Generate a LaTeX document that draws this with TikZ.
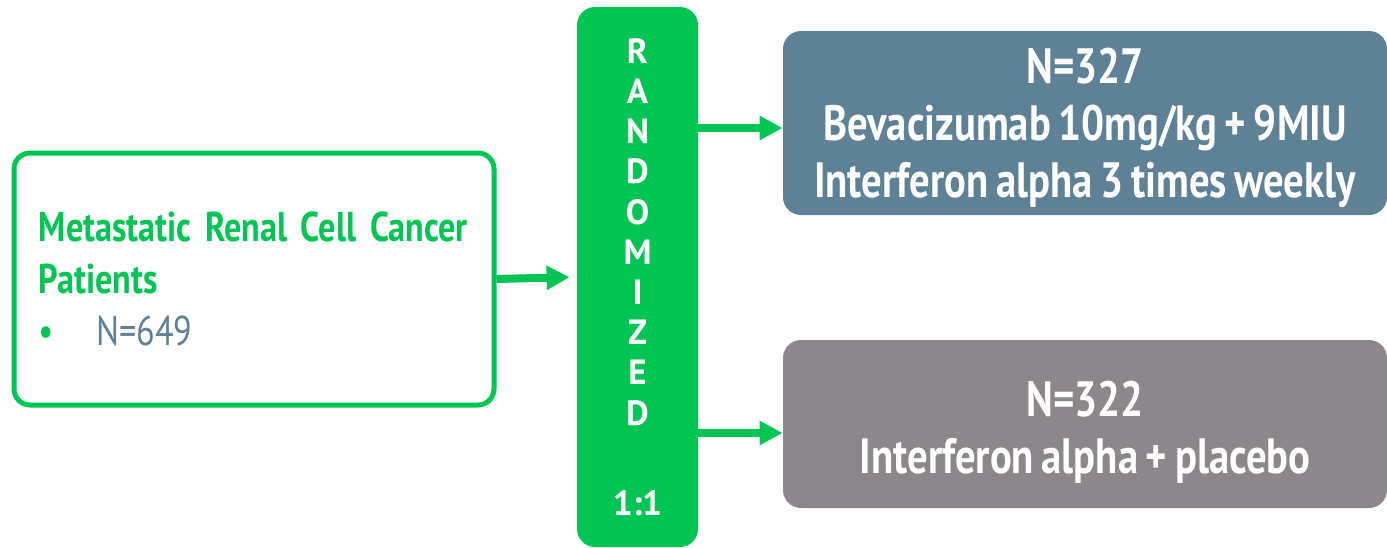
\documentclass[tikz,border=0pt]{standalone}
\usepackage{fontspec}
\setmainfont{PT Sans}[FakeStretch=0.82, WordSpace=0.75]
\newfontfamily\barfont{PT Sans}[BoldFont={PT Sans Bold}]
\usetikzlibrary{arrows.meta, positioning}
\definecolor{trialgreen}{RGB}{0,196,83}
\definecolor{slateblue}{RGB}{94,129,150}
\definecolor{warmgray}{RGB}{139,135,138}
\tikzset{
    groupbox/.style={
        draw=trialgreen,
        line width=2.5pt,
        rounded corners=8pt,
        fill=white,
        minimum width=240pt,
        minimum height=126pt,
        inner xsep=12.5pt,
        text width=215pt,
        align=left,
        font=\fontsize{20.8}{26}\selectfont
    },
    randbar/.style={
        fill=trialgreen,
        rounded corners=9pt,
        minimum width=60.5pt,
        minimum height=270pt,
        align=center,
        text=white,
        font=\barfont\bfseries\fontsize{17.5}{20.1}\selectfont
    },
    armbox/.style={
        rounded corners=9pt,
        minimum width=302pt
    },
    armtext/.style={
        align=center,
        text=white,
        font=\bfseries\fontsize{24.8}{28.5}\selectfont
    },
    line/.style={-{Triangle[length=11.5pt, width=11.5pt]}, line width=4pt, draw=trialgreen}
}
\begin{document}
\begin{tikzpicture}[x=0.5pt, y=-0.5pt]
\useasboundingbox (0,0) rectangle (1387,547);

\node[groupbox] (pts) at (254,279)
    {{\color{trialgreen}\bfseries Metastatic Renal Cell Cancer\\Patients}\\
     {\color{trialgreen}\textbullet}\hspace{21pt}{\color{slateblue}N=649}};

\node[randbar] (rand) at (637.5,277)
    {R\\A\\N\\D\\O\\M\\I\\Z\\E\\D\\[25pt]1:1};

\node[armbox, fill=slateblue, minimum height=92pt] (armA) at (1085,123) {};
\node[armtext] (armAtext) at ([yshift=-2.5pt]armA.center)
    {N=327\\Bevacizumab 10mg/kg + 9MIU\\Interferon alpha 3 times weekly};
\node[armbox, fill=warmgray, minimum height=84pt] (armB) at (1085,424) {};
\node[armtext] (armBtext) at ([yshift=-4pt]armB.center)
    {N=322\\Interferon alpha + placebo};

\draw[line, shorten >=3.5pt] (pts.east) -- (rand.west);
\draw[line] (rand.east |- 0,128) coordinate (a1) -- (armA.west |- a1);
\draw[line] (rand.east |- 0,433) coordinate (b1) -- (armB.west |- b1);
\end{tikzpicture}
\end{document}
